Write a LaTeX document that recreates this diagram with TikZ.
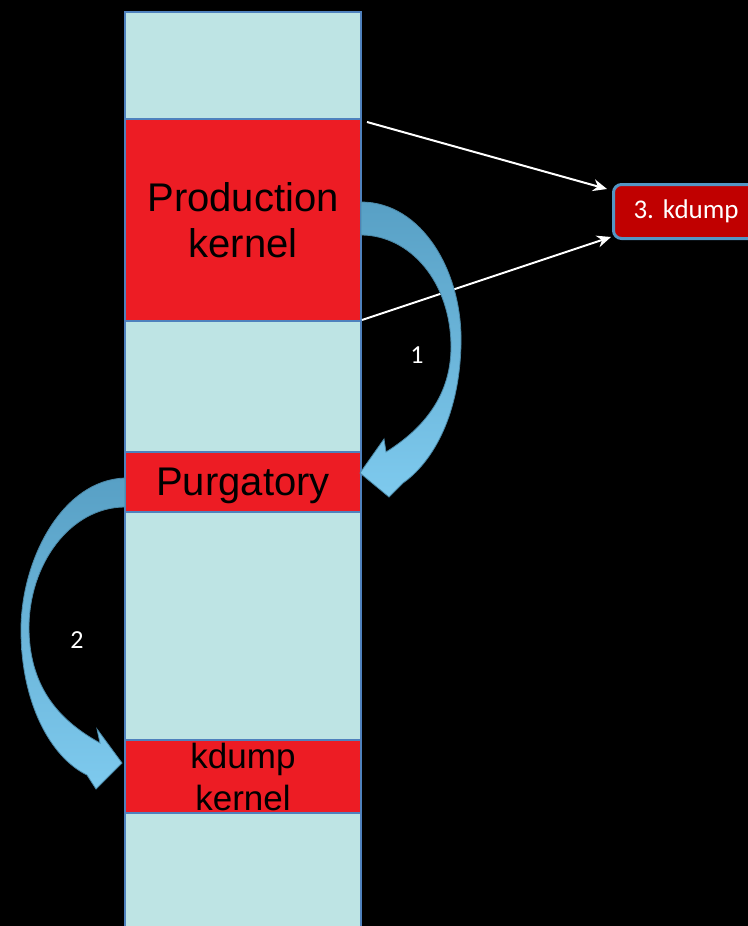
\documentclass[tikz,border=0pt]{standalone}
\usepackage{fontspec}
\setmainfont{Liberation Sans}
\newfontfamily\calfont{Carlito}
\usepackage{xcolor}
\usetikzlibrary{arrows.meta, positioning}
\definecolor{memcolor}{RGB}{190, 228, 228}
\definecolor{kerncolor}{RGB}{237, 28, 36}
\definecolor{edgecolor}{RGB}{79, 129, 189}
\definecolor{dumpcolor}{RGB}{192, 0, 0}
\definecolor{dumpedge}{RGB}{84, 150, 196}
\definecolor{flowtop}{RGB}{88, 160, 197}
\definecolor{flowbot}{RGB}{126, 202, 238}
\frenchspacing

\begin{document}
\begin{tikzpicture}[x=0.5pt, y=-0.5pt,
    band/.style={rectangle, draw=edgecolor, line width=0.8pt, fill=kerncolor,
        minimum width=118pt, inner sep=0pt, align=center, text=black},
    dumpbox/.style={rectangle, rounded corners=4pt, draw=dumpedge, line width=1.5pt,
        fill=dumpcolor, minimum width=90pt, minimum height=27pt, text width=70pt,
        align=left, inner xsep=10pt, anchor=north west, text=white,
        font=\calfont\fontsize{13.5}{15}\selectfont},
    flow/.style={top color=flowtop, bottom color=flowbot, draw=flowtop!85!black, line width=0.4pt},
    step num/.style={text=white, font=\calfont\fontsize{13}{15}\selectfont},
    link/.style={draw=white, line width=1pt, -{Stealth[length=7pt, width=6pt]}},
]
    % page
    \fill[black] (0,0) rectangle (748,926);
    \useasboundingbox (0,0) rectangle (748,926);

    % memory column
    \draw[fill=memcolor, draw=edgecolor, line width=0.8pt] (125,12) rectangle (361,950);

    % kernel regions
    \node[band, minimum height=101pt, font=\fontsize{20}{23}\selectfont] (prod) at (243,220) {Production\\kernel};
    \node[band, minimum height=30pt, text depth=0pt, font=\fontsize{20}{23}\selectfont] (purg) at (243,482) {Purgatory};
    \node[band, minimum height=36.5pt, font=\fontsize{17.5}{21}\selectfont] (kdk) at (243,776.5) {kdump\\kernel};

    % dump box
    \node[dumpbox] (dump) at (612,183) {3. kdump};

    % white arrows
    \coordinate (prodtop) at (367,122);
    \coordinate (prodbot) at (362,320);
    \coordinate (dumpin1) at (607,189);
    \coordinate (dumpin2) at (611,237);
    \draw[link] (prodtop) -- (dumpin1);
    \draw[link] (prodbot) -- (dumpin2);

    % curved arrow 1
    \path[flow] (361,202) .. controls (422,202) and (463,272) .. (461,345)
        .. controls (459,420) and (430,464) .. (403,483)
        -- (389,497) -- (360,473) -- (384,439) -- (386,452)
        .. controls (418,432) and (451,400) .. (451,347)
        .. controls (451,282) and (410,235) .. (361,235) -- cycle;
    \node[step num] (one) at (417,355) {1};

    % curved arrow 2
    \path[flow] (125,478) .. controls (62,480) and (21,560) .. (21,630)
        .. controls (21,702) and (50,757) .. (87,775)
        -- (96,789) -- (122,763) -- (97,729) -- (100,743)
        .. controls (62,722) and (30,690) .. (29,630)
        .. controls (28,565) and (70,507) .. (125,507) -- cycle;
    \node[step num] (two) at (77,640) {2};
\end{tikzpicture}
\end{document}
